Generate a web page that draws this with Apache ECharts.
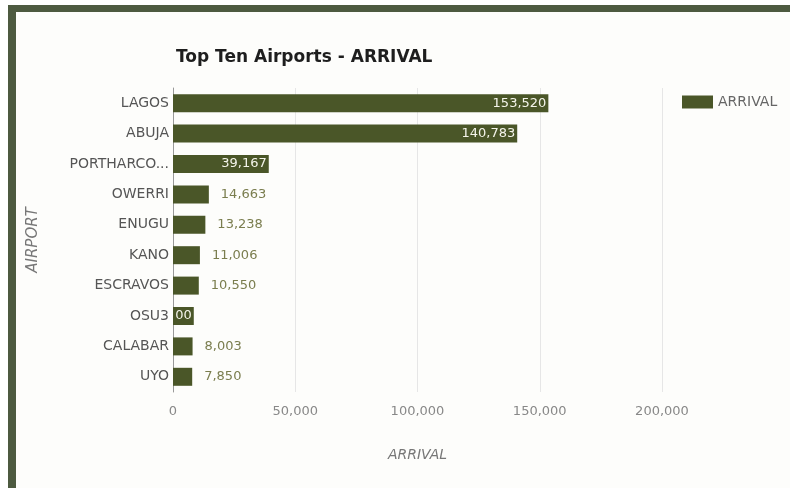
<!DOCTYPE html>
<html>
<head>
<meta charset="utf-8">
<script src="https://cdn.jsdelivr.net/npm/echarts@6/dist/echarts.min.js"></script>
<style>
html,body{margin:0;padding:0;background:#fdfdfb;}
#chart{width:790px;height:488px;}
</style>
</head>
<body>
<div id="chart"></div>
<script>
const categories = ["LAGOS","ABUJA","PORTHARCO...","OWERRI","ENUGU","KANO","ESCRAVOS","OSU3","CALABAR","UYO"];
const arrivals = [153520,140783,39167,14663,13238,11006,10550,8500,8003,7850];
const insideLabels = {0:null,1:null,2:null,7:"00"};
const xTicks = [0,50000,100000,150000,200000];

const FONT = 'DejaVu Sans, Verdana, sans-serif';
const fmt = v => v.toLocaleString('en-US');
const data = arrivals.map((v,i)=>{
  const d = {value:v};
  if (i in insideLabels) {
    d.label = {position:'insideRight', distance:2, color:'#f4f4ea', formatter: insideLabels[i] || fmt(v)};
  }
  return d;
});

const chart = echarts.init(document.getElementById('chart'));
chart.setOption({
  backgroundColor:'#fdfdfb',
  animation:false,
  title:{text:'Top Ten Airports - ARRIVAL', left:171, top:44,
    textStyle:{fontFamily:FONT, fontSize:17, fontWeight:'bold', color:'#1e1e1e'}},
  legend:{data:['ARRIVAL'], icon:'rect', left:677, top:90, itemWidth:31, itemHeight:13, itemGap:6,
    textStyle:{fontFamily:FONT, fontSize:14, color:'#666'}},
  grid:{left:173, right:128, top:88, bottom:96, containLabel:false},
  xAxis:{type:'value', min:xTicks[0], max:xTicks[xTicks.length-1], interval:xTicks[1]-xTicks[0],
    name:'ARRIVAL', nameLocation:'middle', nameGap:56,
    nameTextStyle:{fontFamily:FONT, fontSize:14, fontStyle:'italic', color:'#777'},
    axisLine:{show:false}, axisTick:{show:false},
    axisLabel:{margin:13, fontFamily:FONT, fontSize:13, color:'#888', formatter:v=>fmt(v)},
    splitLine:{lineStyle:{color:'#e6e6e6'}}},
  yAxis:{type:'category', data:categories, inverse:true,
    name:'AIRPORT', nameLocation:'middle', nameGap:132, nameRotate:90,
    nameTextStyle:{fontFamily:FONT, fontSize:15, fontStyle:'italic', color:'#777'},
    axisLine:{show:true, lineStyle:{color:'#999'}}, axisTick:{show:false},
    axisLabel:{margin:4, fontFamily:FONT, fontSize:14, color:'#555'}},
  series:[{name:'ARRIVAL', type:'bar', data:data, barWidth:18,
    itemStyle:{color:'#4a5628'},
    label:{show:true, position:'right', distance:12, fontFamily:FONT, fontSize:13, color:'#7a7d4e', formatter:p=>fmt(p.value)}}],
  graphic:[
    {type:'rect', shape:{x:0,y:0,width:790,height:5}, style:{fill:'#ffffff'}},
    {type:'rect', shape:{x:8,y:5,width:782,height:7}, style:{fill:'#4d5a40'}},
    {type:'rect', shape:{x:8,y:5,width:8,height:483}, style:{fill:'#4d5a40'}},
    {type:'rect', shape:{x:0,y:5,width:8,height:483}, style:{fill:'#ffffff'}}
  ]
});
</script>
</body>
</html>
